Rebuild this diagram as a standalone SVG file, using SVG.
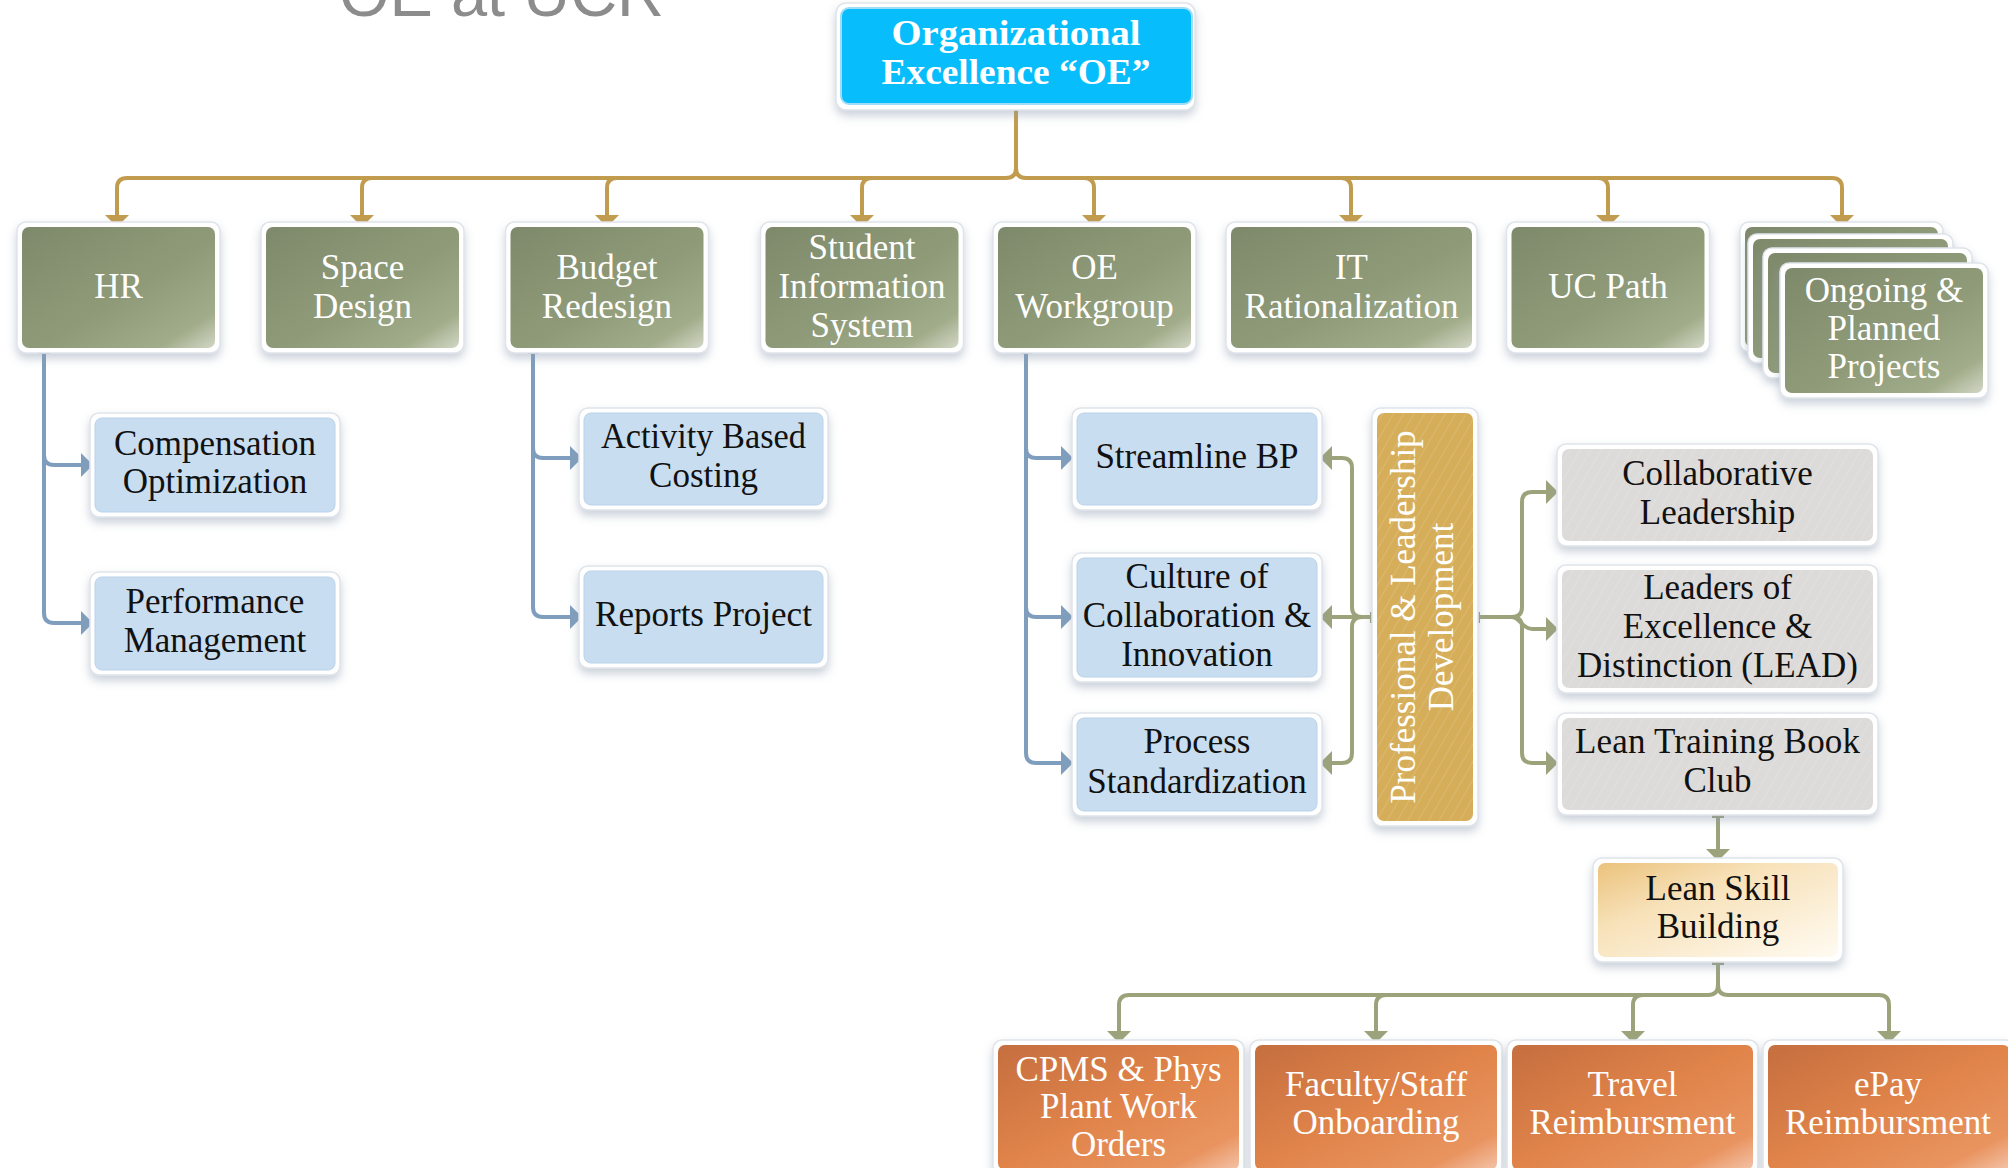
<svg xmlns="http://www.w3.org/2000/svg" width="2008" height="1168" viewBox="0 0 2008 1168">
<defs>
<style>
.outer{fill:#ffffff;stroke:#dfe3ea;stroke-width:1.5;filter:url(#sh)}
.t{font-family:"Liberation Serif","Times New Roman",serif;font-size:35px;text-anchor:middle}
.tw{fill:#ffffff}
.tb{fill:#111111}
.g{fill:url(#gGreen)}
.bl{fill:#C8DDF0;stroke:#b9d2ea;stroke-width:1}
.gr{fill:#DCDBD9}
.or{fill:url(#gOrange)}
.cg{fill:none;stroke:#C29C4E;stroke-width:4}
.cb{fill:none;stroke:#7F9EBD;stroke-width:4}
.co{fill:none;stroke:#9CA37B;stroke-width:4}
</style>
<filter id="sh" x="-20%" y="-20%" width="140%" height="150%">
<feDropShadow dx="0" dy="5" stdDeviation="5" flood-color="#8a97ad" flood-opacity="0.45"/>
</filter>
<linearGradient id="gGreen" x1="0" y1="0" x2="1" y2="1">
<stop offset="0" stop-color="#7E896B"/>
<stop offset="0.55" stop-color="#8F9B78"/>
<stop offset="0.85" stop-color="#A1AC8A"/>
<stop offset="1" stop-color="#D2D7C5"/>
</linearGradient>
<linearGradient id="gOrange" x1="0" y1="0" x2="1" y2="1">
<stop offset="0" stop-color="#C56E3F"/>
<stop offset="0.5" stop-color="#E0844A"/>
<stop offset="0.85" stop-color="#E99460"/>
<stop offset="1" stop-color="#F4C3A8"/>
</linearGradient>
<linearGradient id="gCream" x1="0" y1="0" x2="1" y2="1">
<stop offset="0" stop-color="#EBC27C"/>
<stop offset="0.35" stop-color="#F7E1B8"/>
<stop offset="1" stop-color="#FFFBF2"/>
</linearGradient>
<pattern id="stripes" width="9" height="9" patternUnits="userSpaceOnUse" patternTransform="rotate(30)">
<line x1="0" y1="0" x2="0" y2="9" stroke="#ffffff" stroke-opacity="0.18" stroke-width="1.5"/>
</pattern>
<marker id="ag" viewBox="0 0 12 24" refX="2" refY="12" markerWidth="12" markerHeight="24" markerUnits="userSpaceOnUse" orient="auto"><path d="M0,0 L12,12 L0,24z" fill="#C29C4E"/></marker>
<marker id="ab" viewBox="0 0 12 24" refX="2" refY="12" markerWidth="12" markerHeight="24" markerUnits="userSpaceOnUse" orient="auto"><path d="M0,0 L12,12 L0,24z" fill="#7F9EBD"/></marker>
<marker id="ao" viewBox="0 0 12 24" refX="2" refY="12" markerWidth="12" markerHeight="24" markerUnits="userSpaceOnUse" orient="auto"><path d="M0,0 L12,12 L0,24z" fill="#9CA37B"/></marker>
</defs>
<rect width="2008" height="1168" fill="#ffffff"/>
<text x="339" y="16" font-family="'Liberation Sans',Arial,sans-serif" font-size="65" fill="#8c8c8c">OE at UCR</text>

<g id="connectors">
<path class="cg" d="M1016,109 V168 Q1016,178 1006,178 H127 Q117,178 117,188 V217" marker-end="url(#ag)"/>
<path class="cg" d="M1016,168 Q1016,178 1026,178 H1832 Q1842,178 1842,188 V217" marker-end="url(#ag)"/>
<path class="cg" d="M372,178 Q362,178 362,188 V217" marker-end="url(#ag)"/>
<path class="cg" d="M617,178 Q607,178 607,188 V217" marker-end="url(#ag)"/>
<path class="cg" d="M872,178 Q862,178 862,188 V217" marker-end="url(#ag)"/>
<path class="cg" d="M1084,178 Q1094,178 1094,188 V217" marker-end="url(#ag)"/>
<path class="cg" d="M1341,178 Q1351,178 1351,188 V217" marker-end="url(#ag)"/>
<path class="cg" d="M1598,178 Q1608,178 1608,188 V217" marker-end="url(#ag)"/>
<rect x="1010" y="99" width="12" height="11" fill="#C29C4E"/>

<path class="cb" d="M44,354 V455 Q44,465 54,465 H83" marker-end="url(#ab)"/>
<path class="cb" d="M44,354 V613 Q44,623 54,623 H83" marker-end="url(#ab)"/>
<rect x="39" y="343" width="11" height="11" fill="#7F9EBD"/>
<path class="cb" d="M533,354 V448 Q533,458 543,458 H572" marker-end="url(#ab)"/>
<path class="cb" d="M533,354 V607 Q533,617 543,617 H572" marker-end="url(#ab)"/>
<rect x="528" y="343" width="11" height="11" fill="#7F9EBD"/>
<path class="cb" d="M1026,354 V448 Q1026,458 1036,458 H1063" marker-end="url(#ab)"/>
<path class="cb" d="M1026,354 V607 Q1026,617 1036,617 H1063" marker-end="url(#ab)"/>
<path class="cb" d="M1026,354 V753 Q1026,763 1036,763 H1063" marker-end="url(#ab)"/>
<rect x="1021" y="343" width="11" height="11" fill="#7F9EBD"/>

<path class="co" d="M1372,617 H1362 Q1352,617 1352,607 V468 Q1352,458 1342,458 H1330" marker-end="url(#ao)"/>
<path class="co" d="M1372,617 H1330" marker-end="url(#ao)"/>
<path class="co" d="M1372,617 H1362 Q1352,617 1352,627 V753 Q1352,763 1342,763 H1330" marker-end="url(#ao)"/>
<rect x="1370" y="612" width="12" height="11" fill="#9CA37B"/>
<path class="co" d="M1478,617 H1512 Q1522,617 1522,607 V502 Q1522,492 1532,492 H1548" marker-end="url(#ao)"/>
<path class="co" d="M1478,617 H1512 C1520,617 1522,629 1532,629 H1548" marker-end="url(#ao)"/>
<path class="co" d="M1478,617 H1512 Q1522,617 1522,627 V753 Q1522,763 1532,763 H1548" marker-end="url(#ao)"/>
<rect x="1468" y="612" width="12" height="11" fill="#9CA37B"/>

<path class="co" d="M1718,818 V851" marker-end="url(#ao)"/>
<rect x="1712" y="807" width="12" height="11" fill="#9CA37B"/>
<path class="co" d="M1718,964 V985 Q1718,995 1708,995 H1129 Q1119,995 1119,1005 V1033" marker-end="url(#ao)"/>
<path class="co" d="M1718,985 Q1718,995 1728,995 H1879 Q1889,995 1889,1005 V1033" marker-end="url(#ao)"/>
<path class="co" d="M1386,995 Q1376,995 1376,1005 V1033" marker-end="url(#ao)"/>
<path class="co" d="M1643,995 Q1633,995 1633,1005 V1033" marker-end="url(#ao)"/>
<rect x="1712" y="954" width="12" height="11" fill="#9CA37B"/>
</g>

<g id="root">
<rect class="outer" x="836" y="3" width="359" height="107" rx="10"/>
<rect x="841" y="8" width="351" height="96" rx="8" fill="#07BDFB" stroke="#9fdcf6" stroke-width="2"/>
<text class="t tw" x="1016" y="45" font-size="38" font-weight="bold" textLength="249" lengthAdjust="spacingAndGlyphs">Organizational</text>
<text class="t tw" x="1016" y="84" font-size="38" font-weight="bold" textLength="269" lengthAdjust="spacingAndGlyphs">Excellence “OE”</text>
</g>

<g id="hr">
<rect class="outer" x="17" y="222" width="203" height="131" rx="9"/>
<rect class="g" x="22" y="227" width="193" height="121" rx="7"/>
<text class="t tw" x="118.5" y="298">HR</text>
</g>
<g id="space-design">
<rect class="outer" x="261" y="222" width="203" height="131" rx="9"/>
<rect class="g" x="266" y="227" width="193" height="121" rx="7"/>
<text class="t tw" x="362.5" y="279">Space</text>
<text class="t tw" x="362.5" y="318">Design</text>
</g>
<g id="budget-redesign">
<rect class="outer" x="505.5" y="222" width="203" height="131" rx="9"/>
<rect class="g" x="510.5" y="227" width="193" height="121" rx="7"/>
<text class="t tw" x="607" y="279">Budget</text>
<text class="t tw" x="607" y="318">Redesign</text>
</g>
<g id="student-information-system">
<rect class="outer" x="760.5" y="222" width="203" height="131" rx="9"/>
<rect class="g" x="765.5" y="227" width="193" height="121" rx="7"/>
<text class="t tw" x="862" y="259">Student</text>
<text class="t tw" x="862" y="298">Information</text>
<text class="t tw" x="862" y="337">System</text>
</g>
<g id="oe-workgroup">
<rect class="outer" x="993" y="222" width="203" height="131" rx="9"/>
<rect class="g" x="998" y="227" width="193" height="121" rx="7"/>
<text class="t tw" x="1094.5" y="279">OE</text>
<text class="t tw" x="1094.5" y="318">Workgroup</text>
</g>
<g id="it-rationalization">
<rect class="outer" x="1226" y="222" width="251" height="131" rx="9"/>
<rect class="g" x="1231" y="227" width="241" height="121" rx="7"/>
<text class="t tw" x="1351.5" y="279">IT</text>
<text class="t tw" x="1351.5" y="318">Rationalization</text>
</g>
<g id="uc-path">
<rect class="outer" x="1506.5" y="222" width="203" height="131" rx="9"/>
<rect class="g" x="1511.5" y="227" width="193" height="121" rx="7"/>
<text class="t tw" x="1608" y="298">UC Path</text>
</g>
<g id="ongoing-planned-projects">
<rect class="outer" x="1740" y="222" width="203" height="130" rx="9"/>
<rect class="g" x="1745" y="227" width="193" height="120" rx="7"/>
<rect class="outer" x="1748" y="234" width="205" height="129" rx="9"/>
<rect class="g" x="1753" y="239" width="195" height="119" rx="7"/>
<rect class="outer" x="1763" y="248" width="209" height="130" rx="9"/>
<rect class="g" x="1768" y="253" width="199" height="120" rx="7"/>
<rect class="outer" x="1780" y="263" width="208" height="135" rx="9"/>
<rect class="g" x="1785" y="268" width="198" height="125" rx="7"/>
<text class="t tw" x="1884" y="302">Ongoing &amp;</text>
<text class="t tw" x="1884" y="340">Planned</text>
<text class="t tw" x="1884" y="378">Projects</text>
</g>

<g id="compensation-optimization">
<rect class="outer" x="90" y="413" width="250" height="104" rx="9"/>
<rect class="bl" x="95" y="418" width="240" height="94" rx="7"/>
<text class="t tb" x="215" y="455">Compensation</text>
<text class="t tb" x="215" y="493">Optimization</text>
</g>
<g id="performance-management">
<rect class="outer" x="90" y="572" width="250" height="103" rx="9"/>
<rect class="bl" x="95" y="577" width="240" height="93" rx="7"/>
<text class="t tb" x="215" y="613">Performance</text>
<text class="t tb" x="215" y="652">Management</text>
</g>
<g id="activity-based-costing">
<rect class="outer" x="579" y="408" width="249" height="102" rx="9"/>
<rect class="bl" x="584" y="413" width="239" height="92" rx="7"/>
<text class="t tb" x="703.5" y="448" textLength="205" lengthAdjust="spacingAndGlyphs">Activity Based</text>
<text class="t tb" x="703.5" y="487">Costing</text>
</g>
<g id="reports-project">
<rect class="outer" x="579" y="566" width="249" height="102" rx="9"/>
<rect class="bl" x="584" y="571" width="239" height="92" rx="7"/>
<text class="t tb" x="703.5" y="626">Reports Project</text>
</g>
<g id="streamline-bp">
<rect class="outer" x="1072" y="408" width="250" height="102" rx="9"/>
<rect class="bl" x="1077" y="413" width="240" height="92" rx="7"/>
<text class="t tb" x="1197" y="468">Streamline BP</text>
</g>
<g id="culture-of-collaboration">
<rect class="outer" x="1072" y="553" width="250" height="129" rx="9"/>
<rect class="bl" x="1077" y="558" width="240" height="119" rx="7"/>
<text class="t tb" x="1197" y="588">Culture of</text>
<text class="t tb" x="1197" y="627">Collaboration &amp;</text>
<text class="t tb" x="1197" y="666">Innovation</text>
</g>
<g id="process-standardization">
<rect class="outer" x="1072" y="713" width="250" height="103" rx="9"/>
<rect class="bl" x="1077" y="718" width="240" height="93" rx="7"/>
<text class="t tb" x="1197" y="753">Process</text>
<text class="t tb" x="1197" y="793">Standardization</text>
</g>

<g id="professional-leadership-development">
<rect class="outer" x="1372" y="408" width="106" height="418" rx="9"/>
<rect x="1377" y="413" width="96" height="408" rx="7" fill="#D6AE5A"/>
<rect x="1377" y="413" width="96" height="408" rx="7" fill="url(#stripes)"/>
<text class="t tw" x="1415" y="617" transform="rotate(-90 1415 617)">Professional &amp; Leadership</text>
<text class="t tw" x="1453" y="617" transform="rotate(-90 1453 617)">Development</text>
</g>

<g id="collaborative-leadership">
<rect class="outer" x="1557" y="444" width="321" height="102" rx="9"/>
<rect class="gr" x="1562" y="449" width="311" height="92" rx="7"/>
<rect x="1562" y="449" width="311" height="92" rx="7" fill="url(#stripes)"/>
<text class="t tb" x="1717.5" y="485">Collaborative</text>
<text class="t tb" x="1717.5" y="524">Leadership</text>
</g>
<g id="lead">
<rect class="outer" x="1557" y="565" width="321" height="128" rx="9"/>
<rect class="gr" x="1562" y="570" width="311" height="118" rx="7"/>
<rect x="1562" y="570" width="311" height="118" rx="7" fill="url(#stripes)"/>
<text class="t tb" x="1717.5" y="599">Leaders of</text>
<text class="t tb" x="1717.5" y="638">Excellence &amp;</text>
<text class="t tb" x="1717.5" y="677">Distinction (LEAD)</text>
</g>
<g id="lean-training-book-club">
<rect class="outer" x="1557" y="713" width="321" height="102" rx="9"/>
<rect class="gr" x="1562" y="718" width="311" height="92" rx="7"/>
<rect x="1562" y="718" width="311" height="92" rx="7" fill="url(#stripes)"/>
<text class="t tb" x="1717.5" y="753" textLength="285">Lean Training Book</text>
<text class="t tb" x="1717.5" y="792">Club</text>
</g>

<g id="lean-skill-building">
<rect class="outer" x="1593" y="858" width="250" height="104" rx="9"/>
<rect x="1598" y="863" width="240" height="94" rx="7" fill="url(#gCream)"/>
<text class="t tb" x="1718" y="900">Lean Skill</text>
<text class="t tb" x="1718" y="938">Building</text>
</g>

<g id="cpms-phys-plant">
<rect class="outer" x="993" y="1040" width="251" height="135" rx="9"/>
<rect class="or" x="998" y="1045" width="241" height="125" rx="7"/>
<text class="t tw" x="1118.5" y="1081">CPMS &amp; Phys</text>
<text class="t tw" x="1118.5" y="1118">Plant Work</text>
<text class="t tw" x="1118.5" y="1156">Orders</text>
</g>
<g id="faculty-staff-onboarding">
<rect class="outer" x="1250" y="1040" width="252" height="135" rx="9"/>
<rect class="or" x="1255" y="1045" width="242" height="125" rx="7"/>
<text class="t tw" x="1376" y="1096">Faculty/Staff</text>
<text class="t tw" x="1376" y="1134">Onboarding</text>
</g>
<g id="travel-reimbursment">
<rect class="outer" x="1507" y="1040" width="251" height="135" rx="9"/>
<rect class="or" x="1512" y="1045" width="241" height="125" rx="7"/>
<text class="t tw" x="1632.5" y="1096">Travel</text>
<text class="t tw" x="1632.5" y="1134">Reimbursment</text>
</g>
<g id="epay-reimbursment">
<rect class="outer" x="1763" y="1040" width="252" height="135" rx="9"/>
<rect class="or" x="1768" y="1045" width="242" height="125" rx="7"/>
<text class="t tw" x="1888" y="1096">ePay</text>
<text class="t tw" x="1888" y="1134">Reimbursment</text>
</g>
</svg>
